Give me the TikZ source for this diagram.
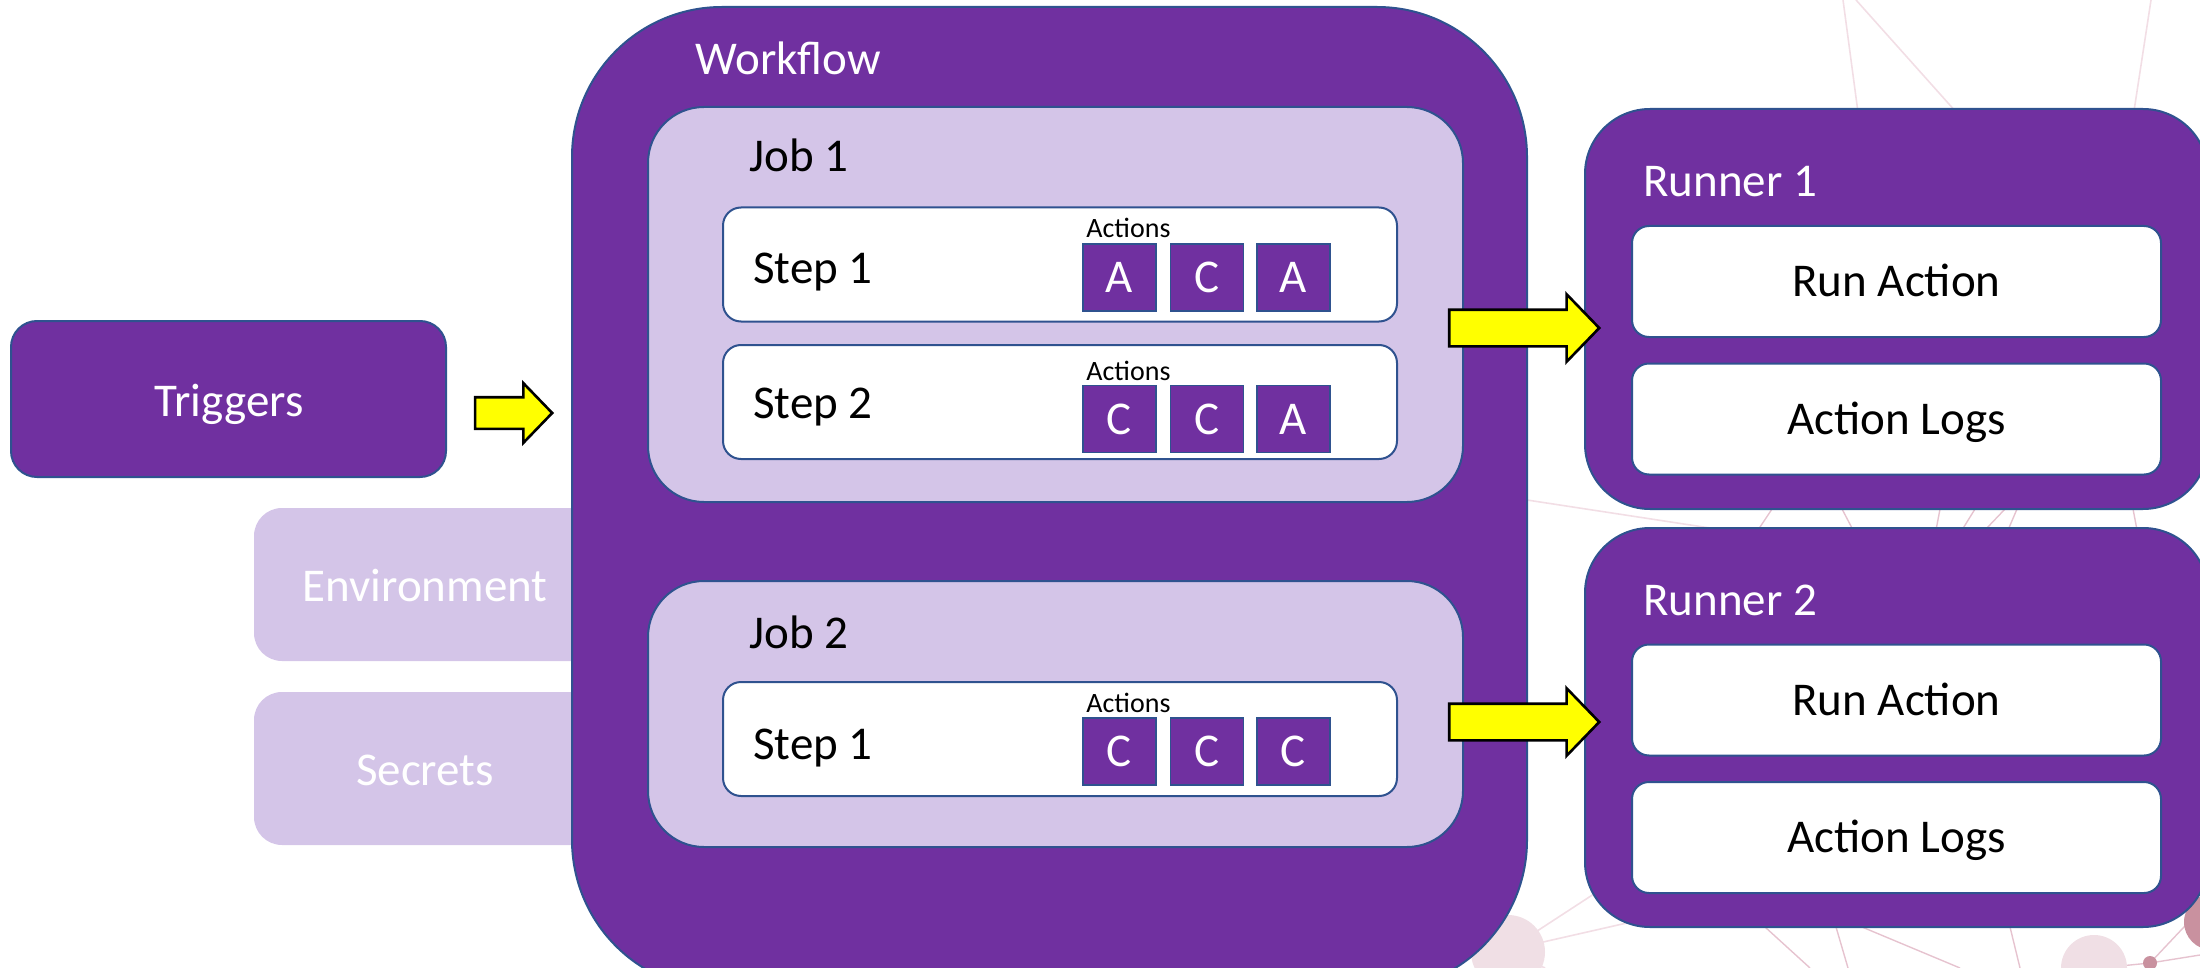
\documentclass[tikz,border=0pt]{standalone}
\usepackage{fontspec}
\setmainfont{Carlito}
\usetikzlibrary{shapes.arrows}
\definecolor{wfpurple}{HTML}{7030A0}
\definecolor{lav}{HTML}{D4C5E8}
\definecolor{edgeblue}{HTML}{2F528F}
\definecolor{bgline}{HTML}{F2DEE5}
\definecolor{bgline2}{HTML}{E6C3CF}
\definecolor{bgcirc}{HTML}{F0DFE5}
\definecolor{bgcirc2}{HTML}{C9919F}
\definecolor{arrowyellow}{HTML}{FFFF00}
\begin{document}
\begin{tikzpicture}[x=0.5pt,y=-0.5pt,
  big/.style={font=\fontsize{23.5}{28}\selectfont},
  capcentre/.style={text height=15.1pt, text depth=0pt},
  small/.style={font=\fontsize{14}{17}\selectfont},
  box/.style={draw=edgeblue, line width=1pt, inner sep=0pt},
  purplebox/.style={box, fill=wfpurple},
  lavbox/.style={box, fill=lav},
  whitebox/.style={box, fill=white},
  sidebox/.style={fill=lav, inner sep=0pt, rounded corners=14pt},
  actbox/.style={draw=edgeblue, line width=0.8pt, fill=wfpurple, inner sep=0pt,
    minimum width=36.5pt, minimum height=33.5pt, text=white, big},
  stepbox/.style={whitebox, rounded corners=9pt, minimum width=337pt, minimum height=57pt},
  runbox/.style={whitebox, rounded corners=8.5pt, minimum width=264.5pt, minimum height=55.5pt, big, capcentre},
  runnerbox/.style={purplebox, rounded corners=32.5pt, minimum width=311.5pt},
  jobbox/.style={lavbox, rounded corners=28pt, minimum width=407.5pt},
  blockarrow/.style={single arrow, draw=black, line width=1.3pt, fill=arrowyellow,
    inner xsep=0pt, single arrow tip angle=92, anchor=tip},
  lbl/.style={anchor=base west, inner sep=0pt, big},
  bgl/.style={draw=bgline, line width=0.8pt},
  bgl2/.style={draw=bgline2, line width=0.7pt}
]
\useasboundingbox (0,0) rectangle (2200,968);
\clip (0,0) rectangle (2200,968);

% faint background network
\draw[bgl] (1843,0) -- (1863,150);
\draw[bgl] (1856,0) -- (1990,150);
\draw[bgl] (2151,0) -- (2128,150);
\draw[bgl] (1527,500) -- (1710,528);
\draw[bgl2] (1772,509) -- (1758,530);
\draw[bgl2] (1842,509) -- (1853,530);
\draw[bgl2] (1940,509) -- (1936,530);
\draw[bgl2] (1975,509) -- (1962,530);
\draw[bgl2] (2005,509) -- (1985,530);
\draw[bgl2] (2017,509) -- (2008,530);
\draw[bgl2] (2133,509) -- (2137,530);
\draw[bgl] (1508,950) -- (1640,920);
\draw[bgl] (1508,950) -- (1600,890);
\draw[bgl] (1545,968) -- (1508,950);
\draw[bgl2] (1765,927) -- (1810,968);
\draw[bgl2] (1836,927) -- (1848,968);
\draw[bgl2] (1862,927) -- (1960,968);
\draw[bgl2] (2010,927) -- (2020,968);
\draw[bgl2] (2150,963) -- (2200,910);
\draw[bgl2] (2150,963) -- (2200,955);
\draw[bgl2] (2150,963) -- (2100,968);
\fill[bgcirc] (1508,952) circle[radius=18.5pt];
\fill[bgcirc] (2094,968) circle[radius=16.5pt];
\fill[bgcirc2] (2212,922) circle[radius=14pt];
\fill[bgcirc2] (2150,963) circle[radius=3.5pt];

% side boxes
\node[sidebox, minimum width=175pt, minimum height=76.5pt] (env) at (429,584.5) {};
\node[sidebox, minimum width=175pt, minimum height=76.5pt] (sec) at (429,768.5) {};
\node[big, capcentre, inner sep=0pt, text=white] (envt) at (425,586) {Environment};
\node[big, capcentre, inner sep=0pt, text=white] (sect) at (425,770) {Secrets};

% triggers
\node[purplebox, rounded corners=13pt, minimum width=217.5pt, minimum height=78pt] (trig) at (228.5,399) {};
\node[big, capcentre, inner sep=0pt, text=white] (trigt) at (229,401) {Triggers};

% workflow
\node[purplebox, rounded corners=75pt, minimum width=477.5pt, minimum height=491.5pt] (wf) at (1049.5,498.5) {};
\node[lbl, text=white] (wft) at (695,75) {Workflow};

% jobs
\node[jobbox, minimum height=197.5pt] (job1) at (1055.5,304.5) {};
\node[lbl] (job1t) at (749,172) {Job 1};
\node[jobbox, minimum height=133pt] (job2) at (1055.5,714) {};
\node[lbl] (job2t) at (749,648) {Job 2};

% steps
\node[stepbox] (s11) at (1060,264.5) {};
\node[lbl] (s11t) at (753,284) {Step 1};
\node[small, anchor=base west, inner sep=0pt] (s11a) at (1086,238) {Actions};
\node[actbox] (a111) at (1119.5,277.5) {A};
\node[actbox] (a112) at (1207,277.5) {C};
\node[actbox] (a113) at (1293.5,277.5) {A};

\node[stepbox] (s12) at (1060,402) {};
\node[lbl] (s12t) at (753,418) {Step 2};
\node[small, anchor=base west, inner sep=0pt] (s12a) at (1086,380) {Actions};
\node[actbox] (a121) at (1119.5,419) {C};
\node[actbox] (a122) at (1207,419) {C};
\node[actbox] (a123) at (1293.5,419) {A};

\node[stepbox] (s21) at (1060,739) {};
\node[lbl] (s21t) at (753,759) {Step 1};
\node[small, anchor=base west, inner sep=0pt] (s21a) at (1086,712) {Actions};
\node[actbox] (a211) at (1119.5,751.5) {C};
\node[actbox] (a212) at (1207,751.5) {C};
\node[actbox] (a213) at (1293.5,751.5) {C};

% runners
\node[runnerbox, minimum height=200pt] (r1) at (1896.5,309) {};
\node[lbl, text=white] (r1t) at (1643,197) {Runner 1};
\node[runbox] (ra1) at (1896.5,281.5) {Run Action};
\node[runbox] (al1) at (1896.5,419) {Action Logs};

\node[runnerbox, minimum height=199.5pt] (r2) at (1896.5,727.5) {};
\node[lbl, text=white] (r2t) at (1643,615) {Runner 2};
\node[runbox] (ra2) at (1896.5,700) {Run Action};
\node[runbox] (al2) at (1896.5,837.5) {Action Logs};

% block arrows
\node[blockarrow, inner ysep=7.25pt, minimum height=38.5pt, minimum width=28.5pt,
  single arrow head extend=7pt] (ar1) at (554,413) {};
\node[blockarrow, inner ysep=8.5pt, minimum height=75pt, minimum width=32.5pt,
  single arrow head extend=7.75pt] (ar2) at (1601,328) {};
\node[blockarrow, inner ysep=8.5pt, minimum height=75pt, minimum width=32.5pt,
  single arrow head extend=7.75pt] (ar3) at (1601,722) {};
\end{tikzpicture}
\end{document}
